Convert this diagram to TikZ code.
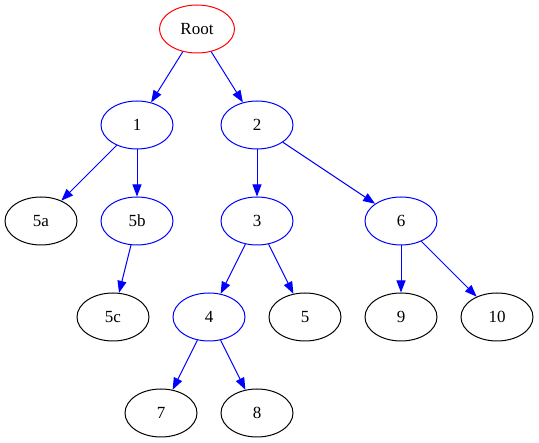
\documentclass[tikz,border=0pt]{standalone}
\usepackage{fontspec}
\setmainfont{Liberation Serif}
\usetikzlibrary{shapes.geometric,arrows.meta}

\begin{document}
\begin{tikzpicture}[
    x=1pt, y=-1pt,
    leaf/.style={
        ellipse,
        draw=black,
        line width=1pt,
        minimum width=72pt,
        minimum height=48pt,
        inner sep=0pt,
        font=\fontsize{17}{20}\selectfont,
    },
    inner/.style={leaf, draw=blue},
    rootnode/.style={leaf, draw=red, minimum width=75pt},
    link/.style={draw=blue, line width=1pt, -{Triangle[length=12pt,width=9pt]}},
]
\useasboundingbox (0,0) rectangle (539,443);

\node[rootnode] (Root) at (197, 29) {Root};
\node[inner] (N1) at (137, 125) {1};
\node[inner] (N2) at (257, 125) {2};
\node[leaf] (N5a) at (41, 221) {5a};
\node[inner] (N5b) at (137, 221) {5b};
\node[inner] (N3) at (257, 221) {3};
\node[inner] (N6) at (401, 221) {6};
\node[leaf] (N5c) at (113, 317) {5c};
\node[inner] (N4) at (209, 317) {4};
\node[leaf] (N5) at (305, 317) {5};
\node[leaf] (N9) at (401, 317) {9};
\node[leaf] (N10) at (497, 317) {10};
\node[leaf] (N7) at (161, 413) {7};
\node[leaf] (N8) at (257, 413) {8};

\draw[link] (Root) -- (N1);
\draw[link] (Root) -- (N2);
\draw[link] (N1) -- (N5a);
\draw[link] (N1) -- (N5b);
\draw[link] (N5b) -- (N5c);
\draw[link] (N2) -- (N3);
\draw[link] (N2) -- (N6);
\draw[link] (N3) -- (N4);
\draw[link] (N3) -- (N5);
\draw[link] (N6) -- (N9);
\draw[link] (N6) -- (N10);
\draw[link] (N4) -- (N7);
\draw[link] (N4) -- (N8);

\end{tikzpicture}
\end{document}
